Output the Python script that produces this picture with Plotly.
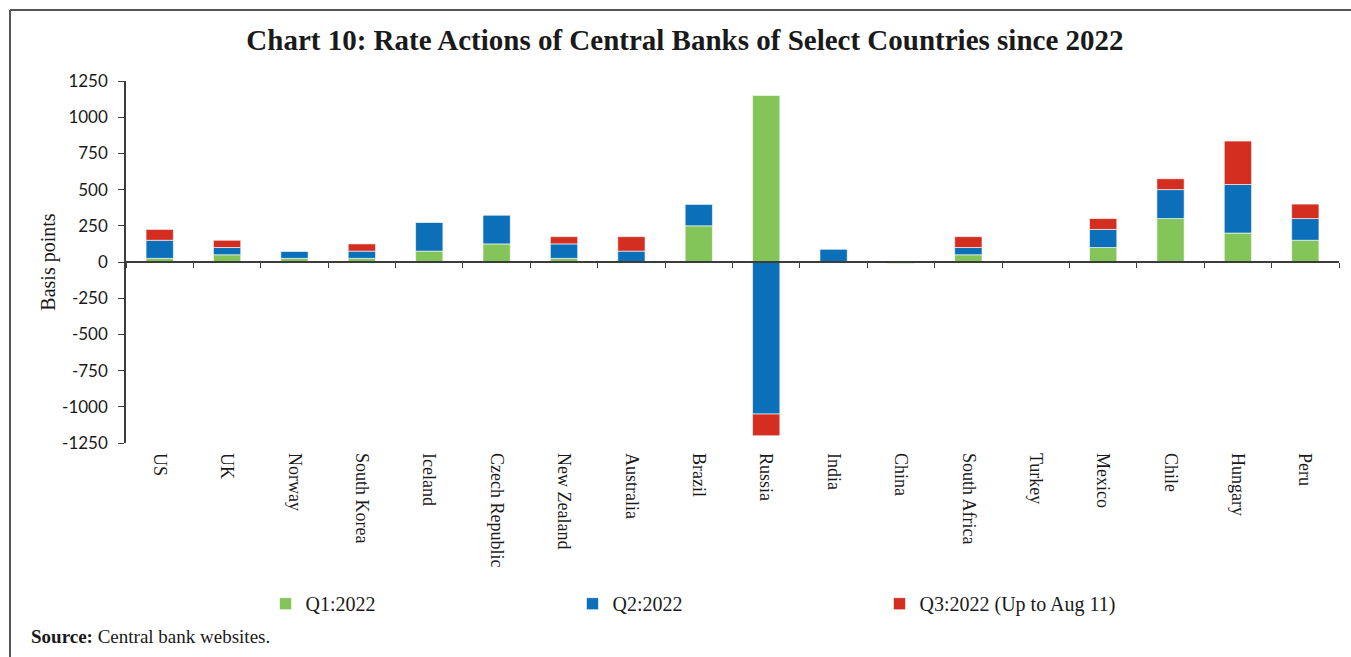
import plotly.graph_objects as go

# Policy rate changes (basis points) by quarter
countries = ["US", "UK", "Norway", "South Korea", "Iceland", "Czech Republic",
             "New Zealand", "Australia", "Brazil", "Russia", "India", "China",
             "South Africa", "Turkey", "Mexico", "Chile", "Hungary", "Peru"]
q1_2022 = [25, 50, 25, 25, 75, 125, 25, 0, 250, 1150, 0, -10, 50, 0, 100, 300, 200, 150]
q2_2022 = [125, 50, 50, 50, 200, 200, 100, 75, 150, -1050, 90, 0, 50, 0, 125, 200, 335, 150]
q3_2022 = [75, 50, 0, 50, 0, 0, 50, 100, 0, -150, 0, 0, 75, 0, 75, 75, 300, 100]

series_names = ["Q1:2022", "Q2:2022", "Q3:2022 (Up to Aug 11)"]
series_colors = ["#84C55A", "#0B6FBA", "#D32E1F"]
y_ticks = [-1250, -1000, -750, -500, -250, 0, 250, 500, 750, 1000, 1250]
y_tick_labels = ["-1250", "-1000", "-750", "-500", "-250", "0",
                 "250", "500", "750", "1000", "1250"]

serif = "Liberation Serif, Times New Roman, serif"
sans = "Lato, Open Sans, sans-serif"
axis_col = "#3c3c3c"
n = len(countries)

fig = go.Figure()
for name, vals, col in zip(series_names, [q1_2022, q2_2022, q3_2022], series_colors):
    fig.add_trace(go.Bar(
        x=countries, y=vals, name=name,
        marker=dict(color=col, line=dict(color="rgba(255,255,255,0.6)", width=1)),
    ))

# invisible trace carrying the zero-line axis with boundary ticks
fig.add_trace(go.Scatter(x=countries, y=[0] * n, xaxis="x2",
                         mode="markers", marker=dict(opacity=0),
                         showlegend=False, hoverinfo="skip"))

fig.update_layout(
    width=1351, height=657,
    margin=dict(l=126, r=12, t=81, b=214),
    barmode="relative", bargap=0.595,
    paper_bgcolor="white", plot_bgcolor="white",
    title=dict(text="<b>Chart 10: Rate Actions of Central Banks of Select Countries since 2022</b>",
               x=0.507, xref="container", xanchor="center",
               y=0.94, yref="container", yanchor="middle",
               font=dict(family=serif, size=29, color="#1a1a1a")),
    xaxis=dict(type="category", categoryorder="array", categoryarray=countries,
               range=[-0.5, n - 0.5],
               showline=False, ticks="", showgrid=False, tickangle=90,
               tickfont=dict(family=serif, size=18, color="#1a1a1a"),
               ticklabelstandoff=9),
    xaxis2=dict(type="category", overlaying="x", matches="x", anchor="free", position=0.5,
                showline=True, linecolor=axis_col, linewidth=1.5,
                ticks="outside", tickson="boundaries", ticklen=5, tickwidth=1.3,
                tickcolor=axis_col, showticklabels=False, showgrid=False),
    yaxis=dict(range=[-1250, 1250], tickvals=y_ticks, ticktext=y_tick_labels,
               showgrid=False, zeroline=False,
               showline=True, linecolor=axis_col, linewidth=1.5,
               ticks="outside", ticklen=6, tickwidth=1.3, tickcolor=axis_col,
               tickfont=dict(family=sans, size=17, color="#1a1a1a"),
               ticklabelstandoff=7,
               title=dict(text="Basis points", standoff=1,
                          font=dict(family=serif, size=20, color="#1a1a1a"))),
    legend=dict(orientation="h", x=0.115, xanchor="left", y=-0.39, yanchor="top",
                entrywidth=262, entrywidthmode="pixels", traceorder="normal",
                font=dict(family=serif, size=20, color="#1a1a1a"),
                itemwidth=30, tracegroupgap=0),
    showlegend=True,
)

# frame lines on the left and top of the figure
fig.add_shape(type="line", xref="paper", yref="paper",
              x0=(10 - 126) / 1213, x1=(10 - 126) / 1213,
              y0=(443 - 660) / 362, y1=(443 - 10) / 362,
              line=dict(color="#555555", width=2))
fig.add_shape(type="line", xref="paper", yref="paper",
              x0=(10 - 126) / 1213, x1=(1355 - 126) / 1213,
              y0=(443 - 10) / 362, y1=(443 - 10) / 362,
              line=dict(color="#555555", width=2))

fig.add_annotation(text="<b>Source:</b> Central bank websites.",
                   xref="paper", yref="paper", x=(29 - 126) / 1213, y=(443 - 636) / 362,
                   xanchor="left", yanchor="middle", showarrow=False,
                   font=dict(family=serif, size=19, color="#1a1a1a"))

fig.write_html("out.html")
